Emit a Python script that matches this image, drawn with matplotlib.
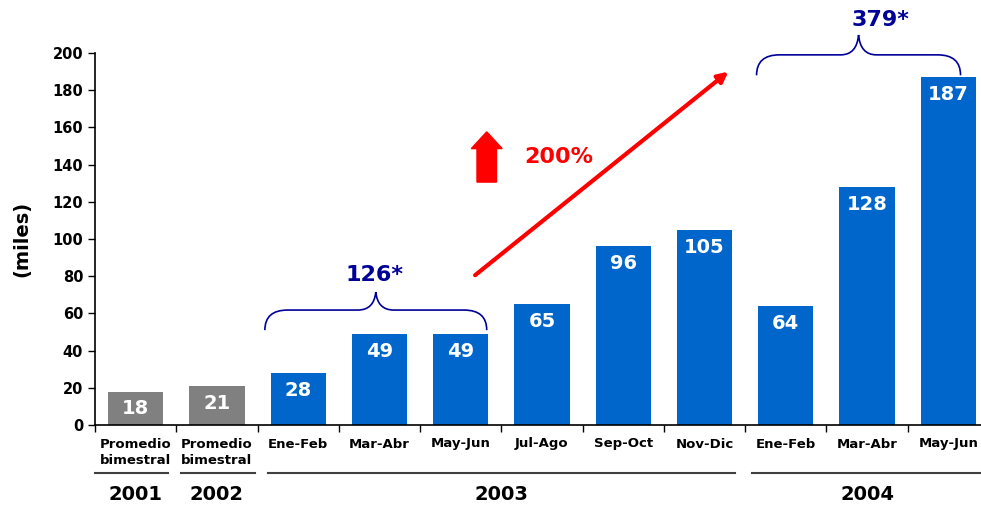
import matplotlib
matplotlib.use("Agg")
import matplotlib.pyplot as plt
import matplotlib.transforms as mtransforms
from matplotlib.path import Path
from matplotlib.patches import PathPatch, FancyArrow

categories = ["Promedio\nbimestral", "Promedio\nbimestral", "Ene-Feb", "Mar-Abr", "May-Jun",
              "Jul-Ago", "Sep-Oct", "Nov-Dic", "Ene-Feb", "Mar-Abr", "May-Jun"]
values = [18, 21, 28, 49, 49, 65, 96, 105, 64, 128, 187]
is_average = [True, True, False, False, False, False, False, False, False, False, False]
years = ["2001", "2002", "2003", "2004"]
year_spans = [(-0.5, 0.4), (0.56, 1.47), (1.63, 7.37), (7.59, 10.39)]
year_label_x = [0, 1, 4.5, 9]
sum_2003 = "126*"
sum_2004 = "379*"
growth = "200%"

GRAY = "#808080"
BLUE = "#0066CC"
NAVY = "#000099"
RED = "#FF0000"

plt.rcParams["font.family"] = ["DejaVu Sans"]
plt.rcParams["font.weight"] = "bold"

fig = plt.figure(figsize=(9.81, 5.08), dpi=100)
ax = fig.add_axes([95 / 981, 83 / 508, 894 / 981, 372 / 508])

x = list(range(len(values)))
colors = [GRAY if a else BLUE for a in is_average]
ax.bar(x, values, width=0.68, color=colors, zorder=2)

for xi, v in zip(x, values):
    ax.annotate(str(v), (xi, v), xytext=(0, -12.5), textcoords="offset points",
                ha="center", va="center", color="white", fontsize=14, fontweight="bold")

ax.set_xlim(-0.5, 10.5)
ax.set_ylim(0, 200)
ax.set_yticks(range(0, 201, 20))
ax.tick_params(axis="y", labelsize=10.5, length=5, width=1, direction="out")
for lab in ax.get_yticklabels():
    lab.set_fontweight("bold")

ax.set_xticks(x)
ax.set_xticklabels(categories, fontsize=9.5, fontweight="bold", linespacing=1.3, va="top")
ax.set_xticks([i - 0.5 for i in range(len(values) + 1)], minor=True)
ax.tick_params(axis="x", which="major", length=0, pad=9)
ax.tick_params(axis="x", which="minor", length=5, width=1, direction="out")

for s in ["top", "right"]:
    ax.spines[s].set_visible(False)
ax.spines["left"].set_linewidth(1.2)
ax.spines["bottom"].set_linewidth(1.2)

ax.set_ylabel("(miles)", fontsize=14, fontweight="bold", labelpad=15)

# year groupings under the axis
trans = mtransforms.blended_transform_factory(ax.transData, ax.transAxes)
for (x0, x1), yr, xl in zip(year_spans, years, year_label_x):
    ax.plot([x0, x1], [-0.129, -0.129], transform=trans, color="#404040", lw=1.5, clip_on=False)
    ax.text(xl, -0.188, yr, transform=trans, ha="center", va="center",
            fontsize=14, fontweight="bold")


def brace(x0, x1, yb, yh, yp, r=0.28, r2=0.22):
    xm = (x0 + x1) / 2
    verts = [(x0, yb), (x0, yh), (x0 + r, yh),
             (xm - r2, yh), (xm - r2 * 0.1, yh), (xm, yp),
             (xm, yp), (xm + r2 * 0.1, yh), (xm + r2, yh),
             (x1 - r, yh), (x1, yh), (x1, yb)]
    codes = [Path.MOVETO, Path.CURVE3, Path.CURVE3,
             Path.LINETO, Path.CURVE3, Path.CURVE3,
             Path.MOVETO, Path.CURVE3, Path.CURVE3,
             Path.LINETO, Path.CURVE3, Path.CURVE3]
    ax.add_patch(PathPatch(Path(verts, codes), fill=False, edgecolor=NAVY, lw=1.2, clip_on=False))


brace(1.59, 4.32, 51, 61.8, 71.5)
ax.text(2.94, 80.5, sum_2003, ha="center", va="center", color=NAVY, fontsize=16, fontweight="bold")
brace(7.64, 10.15, 188, 199, 209.7)
ax.text(9.16, 217.7, sum_2004, ha="center", va="center", color=NAVY, fontsize=16,
        fontweight="bold", clip_on=False)

# red growth arrow
ax.annotate("", xy=(7.32, 190.9), xytext=(4.15, 79.6),
            arrowprops=dict(arrowstyle="-|>,head_length=0.6,head_width=0.3", color=RED, lw=3),
            annotation_clip=False)
ax.add_patch(FancyArrow(4.32, 130.6, 0, 27, width=0.24, head_width=0.38, head_length=9,
                        length_includes_head=True, color=RED, zorder=3))
ax.text(5.2, 144, growth, ha="center", va="center", color=RED, fontsize=16, fontweight="bold")

fig.savefig("out.png", dpi=100)
